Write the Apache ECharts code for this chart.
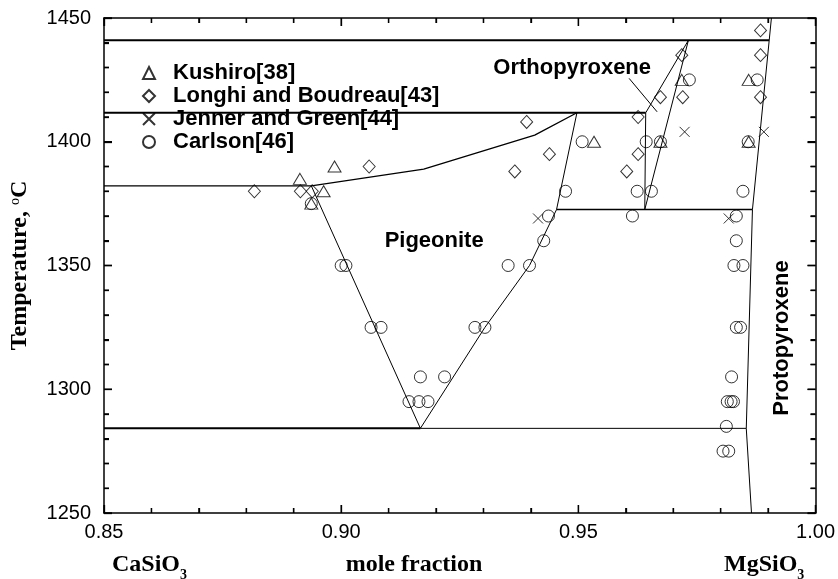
<!DOCTYPE html>
<html>
<head>
<meta charset="utf-8">
<script src="https://cdn.jsdelivr.net/npm/echarts@6/dist/echarts.min.js"></script>
<style>
  html, body { margin: 0; padding: 0; background: #fff; }
  #chart { width: 838px; height: 579px; }
</style>
</head>
<body>
<div id="chart"></div>
<script>
// Axis ranges and tick labels (mole fraction MgSiO3, temperature °C)
const xTicks = [0.85, 0.90, 0.95, 1.00];
const yTicks = [1250, 1300, 1350, 1400, 1450];

// Phase boundaries, each as [mole fraction, T]
const line1441 = [[0.85, 1441], [0.9902, 1441]];
const line1412 = [[0.85, 1411.7], [0.9642, 1411.7]];
const liquidus = [[0.85, 1382.2], [0.8937, 1382.2], [0.9174, 1388.9], [0.9408, 1402.7], [0.9497, 1411.7]];
const pigeoniteLeft = [[0.8937, 1382.2], [0.9167, 1284.2]];
const pigeoniteRight = [[0.9167, 1284.2], [0.9303, 1325], [0.9397, 1350], [0.9454, 1372.6], [0.9497, 1411.7]];
const opxVertical = [[0.9642, 1411.7], [0.9640, 1372.6]];
const line1373 = [[0.9454, 1372.6], [0.9867, 1372.6]];
const opxLeft = [[0.9642, 1411.7], [0.9732, 1441]];
const opxRight = [[0.9640, 1372.6], [0.9732, 1441]];
const protoBoundary = [[0.9907, 1450], [0.9867, 1372.6], [0.9854, 1284.2], [0.9865, 1250]];
const line1284Left = [[0.85, 1284.2], [0.9167, 1284.2]];
const line1284Right = [[0.9167, 1284.2], [0.9854, 1284.2]];
const opxPointer = [[0.9607, 1425.6], [0.9666, 1412.1]];

// Experimental data sets
const kushiro = [
  [0.8913, 1385], [0.8986, 1390], [0.8963, 1380], [0.8937, 1375],
  [0.9533, 1400], [0.9673, 1400], [0.9718, 1425], [0.9859, 1425], [0.9859, 1400]
];
const longhi = [
  [0.8817, 1380], [0.8914, 1380], [0.8939, 1380], [0.9059, 1390],
  [0.9391, 1408], [0.9439, 1395], [0.9366, 1388],
  [0.9626, 1410], [0.9626, 1395], [0.9602, 1388],
  [0.9673, 1418], [0.9720, 1418], [0.9718, 1435],
  [0.9884, 1445], [0.9884, 1435], [0.9884, 1418]
];
const jenner = [[0.9724, 1404], [0.9891, 1404], [0.9415, 1369], [0.9817, 1369]];
const carlson = [
  [0.8937, 1375], [0.9000, 1350], [0.9010, 1350], [0.9063, 1325], [0.9084, 1325],
  [0.9282, 1325], [0.9303, 1325], [0.9167, 1305], [0.9218, 1305],
  [0.9143, 1295], [0.9164, 1295], [0.9183, 1295],
  [0.9352, 1350], [0.9397, 1350], [0.9427, 1360], [0.9437, 1370],
  [0.9614, 1370], [0.9833, 1370], [0.9833, 1360], [0.9828, 1350], [0.9847, 1350],
  [0.9833, 1325], [0.9842, 1325], [0.9823, 1305],
  [0.9814, 1295], [0.9822, 1295], [0.9827, 1295], [0.9812, 1285],
  [0.9805, 1275], [0.9817, 1275],
  [0.9473, 1380], [0.9508, 1400], [0.9643, 1400], [0.9624, 1380], [0.9654, 1380],
  [0.9673, 1400], [0.9734, 1425], [0.9877, 1425], [0.9858, 1400], [0.9847, 1380]
];

const seriesNames = ['Kushiro[38]', 'Longhi and Boudreau[43]', 'Jenner and Green[44]', 'Carlson[46]'];

const X_MIN = xTicks[0], X_MAX = xTicks[xTicks.length - 1];
const Y_MIN = yTicks[0], Y_MAX = yTicks[yTicks.length - 1];

const chart = echarts.init(document.getElementById('chart'), null, { renderer: 'canvas' });

function boundary(data, width, color) {
  return {
    type: 'line', data: data, symbol: 'none', silent: true, animation: false,
    lineStyle: { color: color || '#000', width: width }, z: 2
  };
}

function markers(name, data, symbol, size) {
  return {
    type: 'scatter', name: name, data: data, symbol: symbol, symbolSize: size,
    animation: false, z: 3,
    itemStyle: { color: 'rgba(0,0,0,0)', borderColor: '#000', borderWidth: 1 }
  };
}

const font = 'Liberation Sans, Arial, sans-serif';
const serif = 'Liberation Serif, Times New Roman, serif';

// Frame axis with inward major and minor ticks
function frameAxis(extra) {
  return Object.assign({
    type: 'value',
    axisLine: { show: true, onZero: false, lineStyle: { color: '#000', width: 1.5 } },
    axisTick: { show: true, inside: true, length: 8, lineStyle: { color: '#000', width: 1.3 } },
    minorTick: { show: true, splitNumber: 5, length: 5, lineStyle: { color: '#000', width: 1.3 } },
    splitLine: { show: false },
    minorSplitLine: { show: false },
    axisLabel: { show: false }
  }, extra);
}

const xRange = { min: X_MIN, max: X_MAX, interval: 0.05 };
const yRange = { min: Y_MIN, max: Y_MAX, interval: 50 };

const baseSeries = [
  boundary(line1441, 2),
  boundary(line1412, 2),
  boundary(liquidus, 1.3),
  boundary(pigeoniteLeft, 1),
  boundary(pigeoniteRight, 1),
  boundary(opxVertical, 1),
  boundary(line1373, 1.5),
  boundary(opxLeft, 1),
  boundary(opxRight, 1),
  boundary(protoBoundary, 1),
  boundary(line1284Left, 2),
  boundary(line1284Right, 1),
  boundary(opxPointer, 1),
  markers(seriesNames[0], kushiro, 'triangle', [13, 11]),
  markers(seriesNames[1], longhi, 'diamond', [12, 13]),
  markers(seriesNames[2], jenner, 'path://M0,0L10,10M0,10L10,0', 10),
  markers(seriesNames[3], carlson, 'circle', 12)
];

const option = {
  backgroundColor: '#fff',
  animation: false,
  grid: { left: 101, right: 20, top: 18, bottom: 66, containLabel: false },
  legend: {
    data: seriesNames,
    orient: 'vertical',
    left: 137, top: 57,
    itemWidth: 12, itemHeight: 12, itemGap: 1,
    textStyle: { fontFamily: font, fontWeight: 'bold', fontSize: 22, color: '#000', lineHeight: 22, padding: [0, 0, 0, 13] },
    selectedMode: false
  },
  xAxis: [
    frameAxis(Object.assign({
      position: 'bottom',
      axisLabel: { show: true, margin: 9, fontFamily: font, fontSize: 20, color: '#000', formatter: v => v.toFixed(2) }
    }, xRange)),
    frameAxis(Object.assign({ position: 'top' }, xRange))
  ],
  yAxis: [
    frameAxis(Object.assign({
      position: 'left',
      axisLabel: { show: true, margin: 13, fontFamily: font, fontSize: 20, color: '#000', formatter: v => String(v) },
      name: 'Temperature, {s|o}C',
      nameLocation: 'middle', nameGap: 72, nameRotate: 90,
      nameTextStyle: {
        fontFamily: serif, fontWeight: 'bold', fontSize: 24, color: '#000', lineHeight: 24,
        rich: { s: { fontFamily: serif, fontSize: 14, fontWeight: 'normal', verticalAlign: 'top', lineHeight: 14 } }
      }
    }, yRange)),
    frameAxis(Object.assign({ position: 'right' }, yRange))
  ],
  series: baseSeries
};

chart.setOption(option);

const toPx = (x, y) => chart.convertToPixel({ gridIndex: 0 }, [x, y]);

// Frame ticks as a broken polyline: minor every 0.01 / 10 °C, major every 0.05 / 50 °C
const origin = toPx(X_MIN, Y_MIN);
const pxPerX = (toPx(X_MAX, Y_MIN)[0] - origin[0]) / (X_MAX - X_MIN);
const pxPerY = (origin[1] - toPx(X_MIN, Y_MAX)[1]) / (Y_MAX - Y_MIN);
const tickData = [];
for (let i = 0; i <= 15; i++) {
  const v = X_MIN + i * 0.01;
  const dy = (i % 5 === 0 ? 8 : 5) / pxPerY;
  tickData.push([v, Y_MIN], [v, Y_MIN + dy], '-', [v, Y_MAX], [v, Y_MAX - dy], '-');
}
for (let i = 0; i <= 20; i++) {
  const v = Y_MIN + i * 10;
  const dx = (i % 5 === 0 ? 8 : 5) / pxPerX;
  tickData.push([X_MIN, v], [X_MIN + dx, v], '-', [X_MAX, v], [X_MAX - dx, v], '-');
}
const tickSeries = {
  type: 'line', data: tickData, symbol: 'none', silent: true, animation: false,
  connectNulls: false, clip: false, z: 5,
  lineStyle: { color: '#000', width: 1.3 }
};

// Region names
const graphics = [];
const regionFont = { fontFamily: font, fontWeight: 'bold', fontSize: 22, fill: '#000' };
const pig = toPx(0.9196, 1360);
const opx = toPx(0.9487, 1429.8);
const proto = toPx(0.9929, 1320.7);
graphics.push(
  { type: 'text', x: pig[0], y: pig[1], style: Object.assign({ text: 'Pigeonite', align: 'center', verticalAlign: 'middle' }, regionFont) },
  { type: 'text', x: opx[0], y: opx[1], style: Object.assign({ text: 'Orthopyroxene', align: 'center', verticalAlign: 'middle' }, regionFont) },
  { type: 'text', x: proto[0], y: proto[1], rotation: Math.PI / 2, style: Object.assign({ text: 'Protopyroxene', align: 'center', verticalAlign: 'middle' }, regionFont) }
);

// End members and the axis title under the composition axis
const subRich = { b: { fontFamily: serif, fontWeight: 'bold', fontSize: 14, verticalAlign: 'bottom', lineHeight: 14, padding: [0, 0, -4, 0] } };
graphics.push(
  { type: 'text', left: 112, top: 552, style: { text: 'CaSiO{b|3}', fontFamily: serif, fontWeight: 'bold', fontSize: 24, fill: '#000', lineHeight: 26, rich: subRich } },
  { type: 'text', x: 414, y: 565, style: { text: 'mole fraction', align: 'center', verticalAlign: 'middle', fontFamily: serif, fontWeight: 'bold', fontSize: 24, fill: '#000' } },
  { type: 'text', left: 724, top: 552, style: { text: 'MgSiO{b|3}', fontFamily: serif, fontWeight: 'bold', fontSize: 24, fill: '#000', lineHeight: 26, rich: subRich } }
);

chart.setOption({ series: baseSeries.concat([tickSeries]), graphic: graphics });
</script>
</body>
</html>
